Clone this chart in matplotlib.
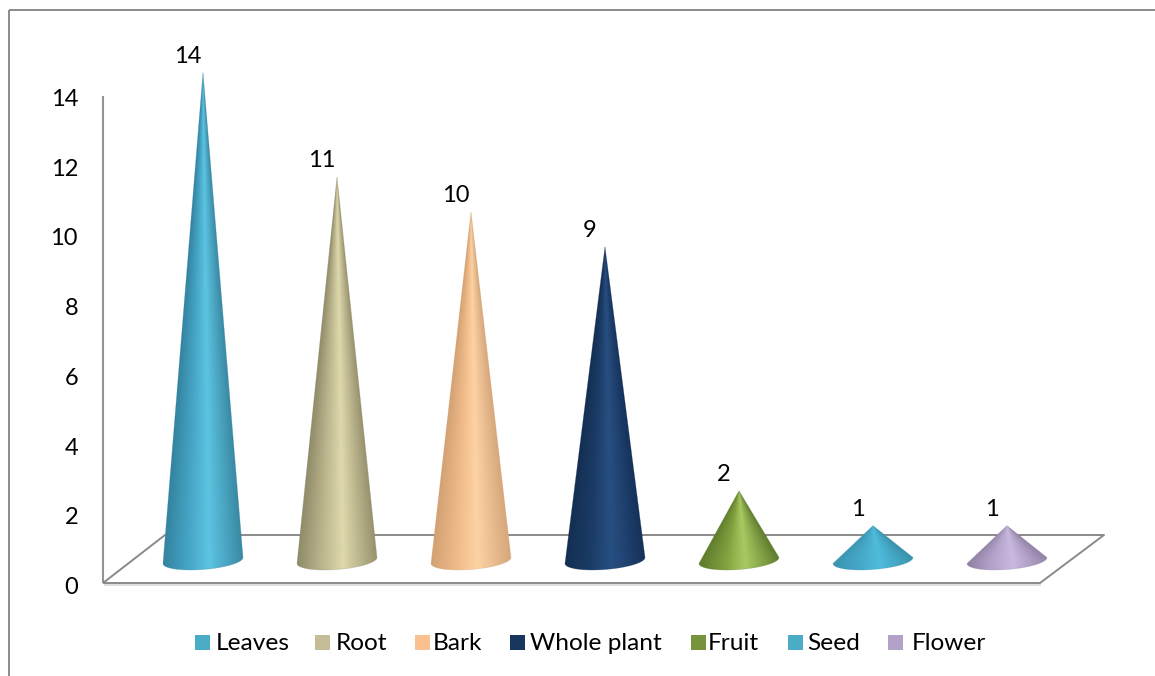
import numpy as np
import matplotlib
matplotlib.use('Agg')
import matplotlib.pyplot as plt
from matplotlib.colors import LinearSegmentedColormap
from matplotlib.patches import PathPatch, Rectangle
from matplotlib.path import Path
from matplotlib.transforms import Affine2D

categories = ['Leaves', 'Root', 'Bark', 'Whole plant', 'Fruit', 'Seed', 'Flower']
counts = [14, 11, 10, 9, 2, 1, 1]
y_ticks = [0, 2, 4, 6, 8, 10, 12, 14]

# legend swatch colour and the (edge, mid, highlight, edge) shading of each cone
swatch_colors = ['#4bacc6', '#c4bd97', '#fac08f', '#17375e', '#77933c', '#4bacc6', '#b3a2c7']
cone_shades = [
    ['#33839f', '#46a6c6', '#5cc4e2', '#3a8aa4'],
    ['#8f8a68', '#bdb78f', '#ded8ac', '#98936f'],
    ['#d2a172', '#f0ba8a', '#fdd2a4', '#d6a87c'],
    ['#142e52', '#1b3c66', '#284f82', '#15325a'],
    ['#5c7a2c', '#7f9f3e', '#a9ca62', '#617f30'],
    ['#3a92b0', '#45a8c8', '#4fbcdc', '#3a93ae'],
    ['#8f7fa4', '#b5a5ca', '#c9b9e0', '#9585aa'],
]
legend_box_x = [195, 315, 415, 510, 691, 788, 888]
legend_text_x = [216, 336, 433, 530, 708, 807, 912]

W, H = 1155, 676
STEP_X = 134.0    # pixels between cones
STEP_Y = 34.85    # pixels per unit
X0, Y0 = 203.0, 560.5    # where category 0, value 0 lands on the canvas
BASE_W = 40 / STEP_X
BASE_D = 9 / STEP_Y
BASE_TILT = 3 / STEP_Y
FRONT_DROP = 27 / STEP_Y    # the axis sits in front of the cones
GRAY = '#8a8a8a'

plt.rcParams['font.family'] = ['Lato', 'DejaVu Sans']

fig = plt.figure(figsize=(W / 100, H / 100), dpi=100)
ax = fig.add_axes([0, 0, 1, 1])
ax.axis('off')
xlim = (-X0 / STEP_X, (W - X0) / STEP_X)
ylim = ((Y0 - H) / STEP_Y, Y0 / STEP_Y)

# canvas pixels, y pointing down, for the frame, floor and legend
px = Affine2D().scale(1 / W, -1 / H).translate(0, 1) + fig.transFigure


def chrome(xs, ys, color=GRAY, lw=1.1, z=1):
    ax.plot(xs, ys, color=color, lw=lw, transform=px, zorder=z, solid_capstyle='butt',
            clip_on=False)


# outer frame
chrome([9, 9], [676, 10], lw=1.4)
chrome([9, 1155], [10, 10], lw=1.4)

# back wall axis and floor, with a pale shadow under the front edge
chrome([104, 1041], [584.5, 584.5], color='#d9d9d9', lw=1.2)
chrome([103, 103], [96, 583], color='#949494', lw=1.5)
chrome([103, 1040, 1104, 165, 103], [583, 583, 535, 535, 583], lw=1.4, z=2)

t = np.linspace(0, np.pi, 60)
for i, (value, shades) in enumerate(zip(counts, cone_shades)):
    cmap = LinearSegmentedColormap.from_list('cone%d' % i, list(zip([0, .32, .58, 1], shades)))
    # bottom rim of the cone, slightly tilted
    rim_x = i + BASE_W * np.cos(t)
    rim_y = BASE_TILT * np.cos(t) - BASE_D * np.sin(t)
    verts = np.column_stack([np.r_[i, rim_x, i], np.r_[value, rim_y, value]])
    outline = Path(verts)

    gx = np.linspace(i - BASE_W, i + BASE_W, 161)
    gy = np.linspace(-BASE_D - 0.05, value, 400)
    mx, my = np.meshgrid(gx, gy)
    half = BASE_W * np.clip(1 - my / value, 0.004, 1)
    u = np.clip((mx - i) / half, -1, 1)
    img = ax.imshow((u + 1) / 2, extent=(gx[0], gx[-1], gy[0], gy[-1]), origin='lower',
                    cmap=cmap, vmin=0, vmax=1, aspect='auto', zorder=3,
                    interpolation='bilinear')
    patch = PathPatch(outline, transform=ax.transData, fc='none', ec='none')
    ax.add_patch(patch)
    img.set_clip_path(patch)
    # soft edge around the clipped gradient
    ax.add_patch(PathPatch(outline, fc='none', ec=shades[0], lw=0.5, alpha=0.35, zorder=4))

    ax.text(i - 15.5 / STEP_X, value + 16.5 / STEP_Y, str(value), ha='center', va='center',
            fontsize=17, color='black', zorder=5)

for v in y_ticks:
    ax.text(-125 / STEP_X, v - FRONT_DROP, str(v), ha='right', va='center', fontsize=17,
            color='black')

# legend along the bottom
for name, color, bx, tx in zip(categories, swatch_colors, legend_box_x, legend_text_x):
    ax.add_patch(Rectangle((bx, 635), 15, 15, fc=color, ec='none', transform=px, zorder=5))
    ax.text(tx, 643, name, ha='left', va='center', fontsize=17.6, color='black', transform=px)

ax.set_xlim(xlim)
ax.set_ylim(ylim)
fig.savefig('out.png', dpi=100)
